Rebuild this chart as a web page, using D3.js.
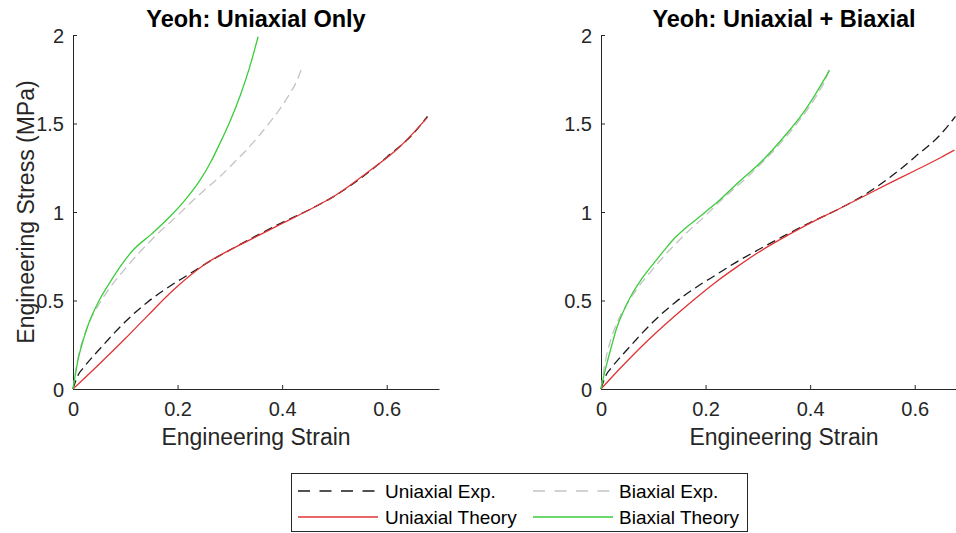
<!DOCTYPE html>
<html>
<head>
<meta charset="utf-8">
<script src="https://cdn.jsdelivr.net/npm/d3@7/dist/d3.min.js"></script>
<style>
  html, body { margin: 0; padding: 0; background: #fff; }
  svg { display: block; font-family: "Liberation Sans", Arial, Helvetica, sans-serif; }
</style>
</head>
<body>
<svg id="chart" width="956" height="533"></svg>
<script>
// ---------- data ----------
const titles = ["Yeoh: Uniaxial Only", "Yeoh: Uniaxial + Biaxial"];
const xTicks = [0, 0.2, 0.4, 0.6];
const yTicks = [0, 0.5, 1, 1.5, 2];
const xLabel = "Engineering Strain";
const yLabel = "Engineering Stress (MPa)";
const legendLabels = ["Uniaxial Exp.", "Biaxial Exp.", "Uniaxial Theory", "Biaxial Theory"];

// experimental data (shared by both panels)
const uniExpX = [0, 0.01, 0.02, 0.04, 0.06, 0.08, 0.1, 0.12, 0.14, 0.16, 0.19, 0.22, 0.255, 0.3, 0.35, 0.4, 0.45, 0.5, 0.55, 0.6, 0.65, 0.678];
const uniExpY = [0, 0.08, 0.12, 0.19, 0.255, 0.32, 0.38, 0.435, 0.485, 0.53, 0.59, 0.645, 0.71, 0.785, 0.865, 0.94, 1.01, 1.09, 1.19, 1.31, 1.44, 1.54];
const biExpX = [0, 0.005, 0.01, 0.02, 0.03, 0.05, 0.07, 0.1, 0.125, 0.141, 0.17, 0.2, 0.217, 0.25, 0.281, 0.31, 0.33, 0.354, 0.38, 0.4, 0.415, 0.428, 0.437];
const biExpY = [0, 0.1, 0.18, 0.29, 0.37, 0.48, 0.57, 0.68, 0.765, 0.815, 0.9, 0.98, 1.03, 1.12, 1.2, 1.285, 1.345, 1.425, 1.52, 1.6, 1.67, 1.74, 1.81];

// panel 1 theory (fit to uniaxial only)
const uniTheory1X = [0, 0.05, 0.1, 0.141, 0.192, 0.255, 0.319, 0.36, 0.4, 0.45, 0.5, 0.561, 0.625, 0.678];
const uniTheory1Y = [0, 0.14, 0.285, 0.409, 0.559, 0.71, 0.814, 0.875, 0.935, 1.01, 1.09, 1.219, 1.369, 1.535];
const biTheory1X = [0, 0.005, 0.01, 0.02, 0.03, 0.05, 0.07, 0.09, 0.115, 0.15, 0.185, 0.215, 0.243, 0.263, 0.281, 0.3, 0.319, 0.337, 0.354];
const biTheory1Y = [0, 0.09, 0.17, 0.28, 0.37, 0.5, 0.6, 0.69, 0.785, 0.875, 0.973, 1.07, 1.18, 1.28, 1.388, 1.51, 1.651, 1.81, 1.99];

// panel 2 theory (fit to uniaxial + biaxial)
const uniTheory2X = [0, 0.03, 0.06, 0.09, 0.12, 0.15, 0.18, 0.22, 0.26, 0.3, 0.35, 0.4, 0.45, 0.5, 0.55, 0.6, 0.65, 0.676];
const uniTheory2Y = [0, 0.096, 0.188, 0.275, 0.357, 0.435, 0.51, 0.605, 0.69, 0.77, 0.857, 0.937, 1.01, 1.085, 1.16, 1.233, 1.308, 1.35];
const biTheory2X = [0, 0.005, 0.01, 0.02, 0.03, 0.04, 0.058, 0.075, 0.09, 0.105, 0.12, 0.14, 0.16, 0.185, 0.21, 0.227, 0.26, 0.31, 0.35, 0.386, 0.41, 0.437];
const biTheory2Y = [0, 0.07, 0.13, 0.24, 0.345, 0.42, 0.53, 0.61, 0.67, 0.725, 0.78, 0.85, 0.905, 0.965, 1.025, 1.068, 1.16, 1.294, 1.425, 1.557, 1.665, 1.80];

// ---------- styles ----------
const axisColor = "#262626";
const styles = {
  uniExp:  { color: "#1a1a1a", dash: "9,5" },
  biExp:   { color: "#c4c4c4", dash: "9,5" },
  uniTh:   { color: "#e03434", dash: null },
  biTh:    { color: "#3ccc3c", dash: null }
};

const zip = (xs, ys) => xs.map((x, i) => [x, ys[i]]);

const panels = [
  { left: 73, title: titles[0], showYLabel: true,
    series: [
      { d: zip(biExpX, biExpY), s: styles.biExp },
      { d: zip(uniExpX, uniExpY), s: styles.uniExp },
      { d: zip(uniTheory1X, uniTheory1Y), s: styles.uniTh },
      { d: zip(biTheory1X, biTheory1Y), s: styles.biTh }
    ] },
  { left: 601, title: titles[1], showYLabel: false,
    series: [
      { d: zip(biExpX, biExpY), s: styles.biExp },
      { d: zip(uniExpX, uniExpY), s: styles.uniExp },
      { d: zip(uniTheory2X, uniTheory2Y), s: styles.uniTh },
      { d: zip(biTheory2X, biTheory2Y), s: styles.biTh }
    ] }
];

const svg = d3.select("#chart");
const plotTop = 35, plotBottom = 389, plotW = 366;

panels.forEach(p => {
  const x = d3.scaleLinear().domain([0, 0.7]).range([p.left, p.left + plotW]);
  const y = d3.scaleLinear().domain([0, 2]).range([plotBottom, plotTop]);
  const g = svg.append("g");

  // axes
  const xa = g.append("g").attr("transform", `translate(0,${plotBottom})`)
    .call(d3.axisBottom(x).tickValues(xTicks).tickSize(-4).tickPadding(10)
      .tickFormat(d => d === 0 ? "0" : d3.format(".1f")(d)).tickSizeOuter(0));
  const ya = g.append("g").attr("transform", `translate(${p.left},0)`)
    .call(d3.axisLeft(y).tickValues(yTicks).tickSize(-4).tickPadding(9)
      .tickFormat(d => String(d)).tickSizeOuter(0));
  [xa, ya].forEach(a => {
    a.select(".domain").attr("stroke", axisColor).attr("stroke-width", 1);
    a.selectAll(".tick line").attr("stroke", axisColor).attr("stroke-width", 1);
    a.selectAll(".tick text").attr("fill", axisColor).attr("font-size", 20)
      .attr("font-family", "Liberation Sans, Arial, sans-serif");
  });
  xa.selectAll(".tick text").attr("dy", null).attr("y", 27);
  ya.selectAll(".tick text").attr("dy", "0.36em");

  // series
  const line = d3.line().x(d => x(d[0])).y(d => y(d[1])).curve(d3.curveMonotoneX);
  p.series.forEach(sr => {
    g.append("path").datum(sr.d)
      .attr("d", line)
      .attr("fill", "none")
      .attr("stroke", sr.s.color)
      .attr("stroke-width", 1.3)
      .attr("stroke-dasharray", sr.s.dash);
  });

  // title
  g.append("text").attr("x", p.left + 183).attr("y", 27)
    .attr("text-anchor", "middle").attr("font-size", 23.5).attr("font-weight", "bold")
    .attr("fill", "#000").text(p.title);
  // x label
  g.append("text").attr("x", p.left + 183).attr("y", 445)
    .attr("text-anchor", "middle").attr("font-size", 23).attr("fill", axisColor)
    .text(xLabel);
  if (p.showYLabel) {
    g.append("text").attr("transform", `translate(34,${(plotTop + plotBottom) / 2}) rotate(-90)`)
      .attr("text-anchor", "middle").attr("font-size", 23).attr("fill", axisColor)
      .text(yLabel);
  }
});

// ---------- legend ----------
const lg = svg.append("g");
lg.append("rect").attr("x", 291.5).attr("y", 473.5).attr("width", 456).attr("height", 58)
  .attr("fill", "#fff").attr("stroke", axisColor).attr("stroke-width", 1);
const legItems = [
  { label: legendLabels[0], s: styles.uniExp, lx: 298, tx: 385, ly: 491 },
  { label: legendLabels[1], s: styles.biExp, lx: 533, tx: 619, ly: 491 },
  { label: legendLabels[2], s: styles.uniTh, lx: 298, tx: 385, ly: 517 },
  { label: legendLabels[3], s: styles.biTh, lx: 533, tx: 619, ly: 517 }
];
legItems.forEach(it => {
  lg.append("line").attr("x1", it.lx).attr("x2", it.lx + 80).attr("y1", it.ly).attr("y2", it.ly)
    .attr("stroke", it.s.color).attr("stroke-width", 1.3)
    .attr("stroke-dasharray", it.s.dash ? "12,9.5" : null);
  lg.append("text").attr("x", it.tx).attr("y", it.ly).attr("dy", "0.36em")
    .attr("font-size", 19).attr("fill", "#000").text(it.label);
});
</script>
</body>
</html>
